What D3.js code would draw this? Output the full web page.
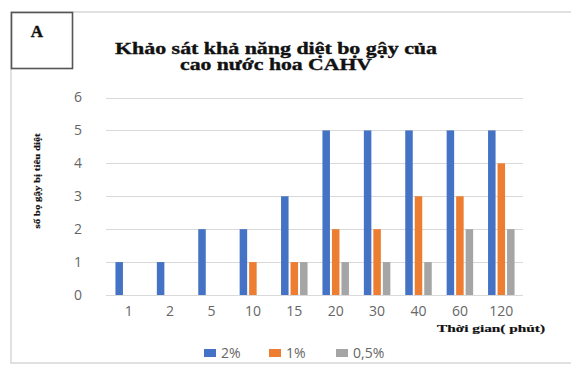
<!DOCTYPE html>
<html>
<head>
<meta charset="utf-8">
<script src="https://cdn.jsdelivr.net/npm/d3@7"></script>
<style>
  html, body { margin: 0; padding: 0; background: #fff; }
  svg { display: block; }
</style>
</head>
<body>
<svg id="chart" width="571" height="365"></svg>
<script>
// Survey data: number of larvae killed over time, per concentration
const categories = ["1", "2", "5", "10", "15", "20", "30", "40", "60", "120"];
const seriesNames = ["2%", "1%", "0,5%"];
const values2 = [1, 1, 2, 2, 3, 5, 5, 5, 5, 5];
const values1 = [0, 0, 0, 1, 1, 2, 2, 3, 3, 4];
const values05 = [0, 0, 0, 0, 1, 1, 1, 1, 2, 2];
const yTicks = [0, 1, 2, 3, 4, 5, 6];
const colors = ["#4472C4", "#ED7D31", "#A5A5A5"];

const seriesValues = [values2, values1, values05];
const rows = categories.map((c, i) => ({
  cat: c,
  vals: seriesNames.map((s, j) => ({ key: s, value: seriesValues[j][i] }))
}));

const svg = d3.select("#chart");

// outer frame
svg.append("rect")
  .attr("x", 11).attr("y", 12).attr("width", 600).attr("height", 351)
  .attr("fill", "none").attr("stroke", "#d6d6d6").attr("stroke-width", 1.5);

// panel label box
svg.append("rect")
  .attr("x", 11.5).attr("y", 12.5).attr("width", 61).attr("height", 56)
  .attr("fill", "#fff").attr("stroke", "#555").attr("stroke-width", 1.6);
svg.append("text")
  .attr("x", 37).attr("y", 37)
  .attr("text-anchor", "middle")
  .attr("font-family", "Liberation Serif, serif")
  .attr("font-weight", "bold").attr("font-size", 17)
  .attr("stroke", "#111").attr("stroke-width", 0.4)
  .attr("fill", "#111").text("A");

// title
const titleLines = [
  { t: "Khảo sát khả năng diệt bọ gậy của", y: 53.5, len: 322 },
  { t: "cao nước hoa CAHV", y: 69.5, len: 192 }
];
svg.selectAll("text.title").data(titleLines).enter().append("text")
  .attr("class", "title")
  .attr("x", 276).attr("y", d => d.y)
  .attr("text-anchor", "middle")
  .attr("font-family", "Liberation Serif, serif")
  .attr("font-weight", "bold").attr("font-size", 16)
  .attr("stroke", "#111").attr("stroke-width", 0.35)
  .attr("textLength", d => d.len).attr("lengthAdjust", "spacingAndGlyphs")
  .attr("fill", "#111").text(d => d.t);

// scales
const x0 = d3.scaleBand().domain(categories).range([108, 522]).padding(0);
const x1 = d3.scaleBand().domain(seriesNames).range([-13.25, 13.25]).paddingInner(0.21);
const y = d3.scaleLinear().domain([0, 6]).range([295, 97.5]);
const color = d3.scaleOrdinal().domain(seriesNames).range(colors);

// gridlines
svg.append("g").selectAll("line").data(yTicks).enter().append("line")
  .attr("x1", 106).attr("x2", 523)
  .attr("y1", d => Math.round(y(d)) + 0.5).attr("y2", d => Math.round(y(d)) + 0.5)
  .attr("stroke", "#d9d9d9").attr("stroke-width", 1);

// y axis labels
const yAxis = d3.axisLeft(y).tickValues(yTicks).tickFormat(d3.format("d"))
  .tickSize(0).tickPadding(0);
const gy = svg.append("g").attr("transform", "translate(85,0)").call(yAxis);
gy.select(".domain").remove();
gy.selectAll("text")
  .attr("font-family", "Open Sans, sans-serif").attr("font-size", 14)
  .attr("fill", "#666").attr("text-anchor", "middle").attr("dx", "-7");

// x axis labels
const xAxis = d3.axisBottom(x0).tickSize(0).tickPadding(0);
const gx = svg.append("g").attr("transform", "translate(0,306)").call(xAxis);
gx.select(".domain").remove();
gx.selectAll("text")
  .attr("font-family", "Open Sans, sans-serif").attr("font-size", 14)
  .attr("fill", "#666");

// bars
const groups = svg.append("g").selectAll("g").data(rows).enter().append("g")
  .attr("transform", d => `translate(${x0(d.cat) + x0.bandwidth() / 2},0)`);
groups.selectAll("rect").data(d => d.vals.filter(v => v.value > 0)).enter().append("rect")
  .attr("x", d => x1(d.key))
  .attr("width", x1.bandwidth())
  .attr("y", d => y(d.value))
  .attr("height", d => y(0) - y(d.value))
  .attr("fill", d => color(d.key));

// y axis title
svg.append("text")
  .attr("transform", "translate(40,181) rotate(-90)")
  .attr("text-anchor", "middle")
  .attr("font-family", "Liberation Serif, serif")
  .attr("font-weight", "bold").attr("font-size", 9)
  .attr("stroke", "#111").attr("stroke-width", 0.2)
  .attr("textLength", 95).attr("lengthAdjust", "spacingAndGlyphs")
  .attr("fill", "#111").text("số bọ gậy bị tiêu diệt");

// x axis title
svg.append("text")
  .attr("x", 437).attr("y", 332)
  .attr("font-family", "Liberation Serif, serif")
  .attr("font-weight", "bold").attr("font-size", 11)
  .attr("stroke", "#111").attr("stroke-width", 0.2)
  .attr("textLength", 108).attr("lengthAdjust", "spacingAndGlyphs")
  .attr("fill", "#111").text("Thời gian( phút)");

// legend
const legendX = [204, 269, 336];
const legend = svg.append("g").selectAll("g").data(seriesNames).enter().append("g")
  .attr("transform", (d, i) => `translate(${legendX[i]},353)`);
legend.append("rect")
  .attr("x", 0).attr("y", -4).attr("width", 12).attr("height", 8)
  .attr("fill", d => color(d));
legend.append("text")
  .attr("x", 17).attr("y", 0).attr("dy", "0.36em")
  .attr("font-family", "Open Sans, sans-serif").attr("font-size", 14)
  .attr("fill", "#666").text(d => d);
</script>
</body>
</html>
